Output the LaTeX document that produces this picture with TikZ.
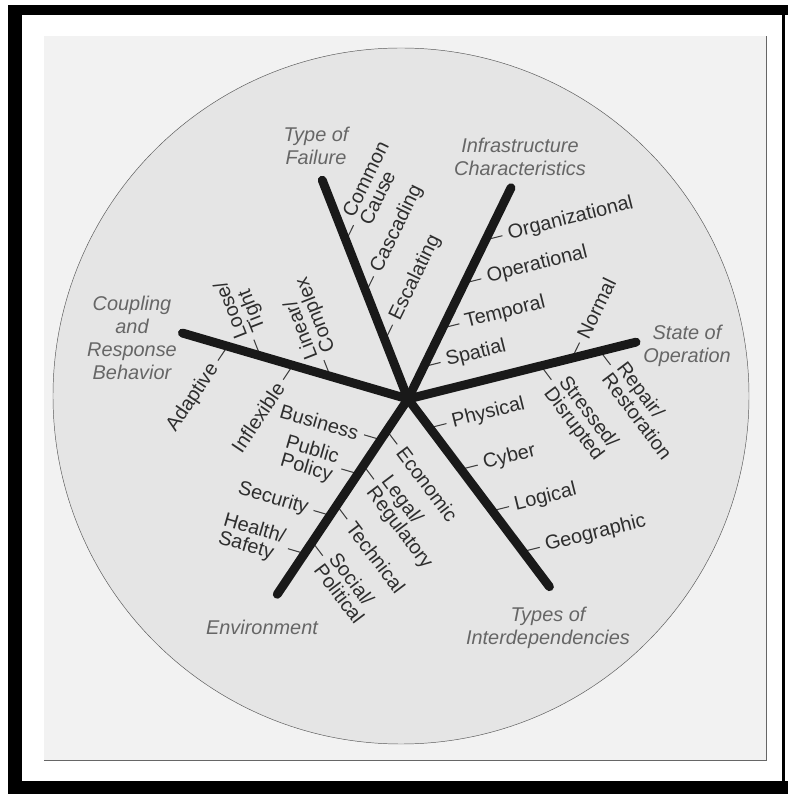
\documentclass[tikz,border=0pt]{standalone}
\usepackage{fontspec}
\setmainfont{Liberation Sans}

\begin{document}
\begin{tikzpicture}[x=0.03cm, y=0.03cm]
	\tikzstyle{spoke} = [line width=7.6pt, line cap=round, draw=black!90]
	\tikzstyle{tick} = [line width=0.9pt, draw=black!75, shorten >=4pt]
	\tikzstyle{lbl} = [inner sep=1pt, align=left, text=black!82, font=\fontsize{17}{16}\selectfont]
	\tikzstyle{head} = [align=center, text=black!60, font=\fontsize{17}{19.5}\selectfont\itshape]

	% frame, panel and disc
	\useasboundingbox (-408,-395) rectangle (380,399);
	\fill[white] (-408,-395) rectangle (380,399);
	\fill[black] (-400,-395) rectangle (380,394);
	\fill[white] (-386,-382) rectangle (374,384);
	\fill[white] (377,-382) rectangle (380,384);
	\fill[black!5] (-364,-361) rectangle (358,363);
	\draw[black!60, thick] (-364,-361) -- (358,-361) -- (358,363);
	\draw[black!65, fill=black!10] (-7,3) circle (348);

	\coordinate (hub) at (0,0);
	\coordinate (F) at (111.4:235);
	\coordinate (I) at (64:235);
	\coordinate (S) at (14:235);
	\coordinate (T) at (-53:235);
	\coordinate (E) at (-123.8:235);
	\coordinate (C) at (163.7:235);

	% type of failure
	\coordinate (f1) at (111.4:63);
	\coordinate (f2) at (111.4:115);
	\coordinate (f3) at (111.4:170);
	\path (f1) ++(64:22) node[lbl, rotate=64, anchor=west] (esc) {Escalating};
	\path (f2) ++(64:22) node[lbl, rotate=64, anchor=west] (cas) {Cascading};
	\path (f3) ++(64:22) node[lbl, rotate=64, anchor=west] (com) {Common\\Cause};
	\draw[tick] (f1) -- (esc.west);
	\draw[tick] (f2) -- (cas.west);
	\draw[tick] (f3) -- (com.west);

	% infrastructure characteristics
	\coordinate (i1) at (64:36);
	\coordinate (i2) at (64:79);
	\coordinate (i3) at (64:129);
	\coordinate (i4) at (64:177);
	\path (i1) ++(14:22) node[lbl, rotate=14, anchor=west] (spa) {Spatial};
	\path (i2) ++(14:22) node[lbl, rotate=14, anchor=west] (tem) {Temporal};
	\path (i3) ++(14:22) node[lbl, rotate=14, anchor=west] (ope) {Operational};
	\path (i4) ++(14:22) node[lbl, rotate=14, anchor=west] (org) {Organizational};
	\draw[tick] (i1) -- (spa.west);
	\draw[tick] (i2) -- (tem.west);
	\draw[tick] (i3) -- (ope.west);
	\draw[tick] (i4) -- (org.west);

	% state of operation
	\coordinate (s1) at (14:169);
	\coordinate (s2) at (14:137);
	\coordinate (s3) at (14:198);
	\path (s1) ++(64:22) node[lbl, rotate=64, anchor=west] (nor) {Normal};
	\path (s2) ++(-53:22) node[lbl, rotate=-53, anchor=west] (str) {Stressed/\\Disrupted};
	\path (s3) ++(-53:22) node[lbl, rotate=-53, anchor=west] (rep) {Repair/\\Restoration};
	\draw[tick] (s1) -- (nor.west);
	\draw[tick] (s2) -- (str.west);
	\draw[tick] (s3) -- (rep.west);

	% types of interdependencies
	\coordinate (t1) at (-53:36);
	\coordinate (t2) at (-53:88);
	\coordinate (t3) at (-53:140);
	\coordinate (t4) at (-53:191);
	\path (t1) ++(14:22) node[lbl, rotate=14, anchor=west] (phy) {Physical};
	\path (t2) ++(14:22) node[lbl, rotate=14, anchor=west] (cyb) {Cyber};
	\path (t3) ++(14:22) node[lbl, rotate=14, anchor=west] (log) {Logical};
	\path (t4) ++(14:22) node[lbl, rotate=14, anchor=west] (geo) {Geographic};
	\draw[tick] (t1) -- (phy.west);
	\draw[tick] (t2) -- (cyb.west);
	\draw[tick] (t3) -- (log.west);
	\draw[tick] (t4) -- (geo.west);

	% environment
	\coordinate (e1) at (-123.8:49);
	\coordinate (e2) at (-123.8:90);
	\coordinate (e3) at (-123.8:140);
	\coordinate (e4) at (-123.8:186);
	\coordinate (e5) at (-123.8:38);
	\coordinate (e6) at (-123.8:80);
	\coordinate (e7) at (-123.8:128);
	\coordinate (e8) at (-123.8:172);
	\path (e1) ++(163.7:22) node[lbl, rotate=-16.3, anchor=east] (bus) {Business};
	\path (e2) ++(163.7:22) node[lbl, rotate=-16.3, anchor=east] (pub) {Public\\Policy};
	\path (e3) ++(163.7:22) node[lbl, rotate=-16.3, anchor=east] (sec) {Security};
	\path (e4) ++(163.7:22) node[lbl, rotate=-16.3, anchor=east] (hea) {Health/\\Safety};
	\path (e5) ++(-53:22) node[lbl, rotate=-53, anchor=west] (eco) {Economic};
	\path (e6) ++(-53:22) node[lbl, rotate=-53, anchor=west] (leg) {Legal/\\Regulatory};
	\path (e7) ++(-53:22) node[lbl, rotate=-53, anchor=west] (tec) {Technical};
	\path (e8) ++(-53:22) node[lbl, rotate=-53, anchor=west] (soc) {Social/\\Political};
	\draw[tick] (e1) -- (bus.east);
	\draw[tick] (e2) -- (pub.east);
	\draw[tick] (e3) -- (sec.east);
	\draw[tick] (e4) -- (hea.east);
	\draw[tick] (e5) -- (eco.west);
	\draw[tick] (e6) -- (leg.west);
	\draw[tick] (e7) -- (tec.west);
	\draw[tick] (e8) -- (soc.west);

	% coupling and response behavior
	\coordinate (c1) at (163.7:81);
	\coordinate (c2) at (163.7:154);
	\coordinate (c3) at (163.7:120);
	\coordinate (c4) at (163.7:188);
	\path (c1) ++(111.4:22) node[lbl, rotate=111.4, anchor=west] (lin) {Linear/\\Complex};
	\path (c2) ++(111.4:22) node[lbl, rotate=111.4, anchor=west] (loo) {Loose/\\Tight};
	\path (c3) ++(-123.8:22) node[lbl, rotate=56.2, anchor=east] (inf) {Inflexible};
	\path (c4) ++(-123.8:22) node[lbl, rotate=56.2, anchor=east] (ada) {Adaptive};
	\draw[tick] (c1) -- (lin.west);
	\draw[tick] (c2) -- (loo.west);
	\draw[tick] (c3) -- (inf.east);
	\draw[tick] (c4) -- (ada.east);

	% spokes
	\draw[spoke] (hub) -- (F);
	\draw[spoke] (hub) -- (I);
	\draw[spoke] (hub) -- (S);
	\draw[spoke] (hub) -- (T);
	\draw[spoke] (hub) -- (E);
	\draw[spoke] (hub) -- (C);

	% headings
	\node[head] (hF) at (-92,253) {Type of\\Failure};
	\node[head] (hI) at (112,242) {Infrastructure\\Characteristics};
	\node[head] (hS) at (279,53) {State of\\Operation};
	\node[head] (hT) at (140,-229) {Types of\\Interdependencies};
	\node[head] (hE) at (-146,-228) {Environment};
	\node[head] (hC) at (-276,61) {Coupling\\and\\Response\\Behavior};
\end{tikzpicture}
\end{document}
